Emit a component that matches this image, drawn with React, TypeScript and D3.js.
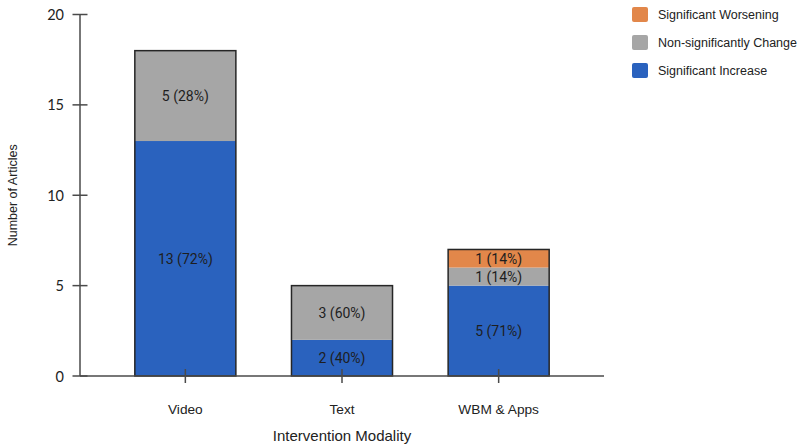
import React from "react";
import * as d3 from "d3";

// Data
const categories = ["Video", "Text", "WBM & Apps"];
const seriesNames = ["Significant Increase", "Non-significantly Change", "Significant Worsening"];
const increase = [13, 2, 5];
const nonSig = [5, 3, 1];
const worsening = [0, 0, 1];
const increaseLabels = ["13 (72%)", "2 (40%)", "5 (71%)"];
const nonSigLabels = ["5 (28%)", "3 (60%)", "1 (14%)"];
const worseningLabels = ["", "", "1 (14%)"];
const yTicks = [0, 5, 10, 15, 20];

const colors = ["#2a62be", "#a6a6a6", "#e2874a"];

const App = () => {
  // Dimensions
  const width = 798;
  const height = 446;
  const left = 80;
  const right = 604;
  const top = 14.5;
  const bottom = 376;

  // Scales
  const yScale = d3.scaleLinear().domain([0, 20]).range([bottom, top]);
  const xScale = d3
    .scaleBand()
    .domain(categories)
    .range([left, right])
    .paddingInner(0.355)
    .paddingOuter(0.35);

  // Stack
  const rows = categories.map((c, i) => ({
    cat: c,
    inc: increase[i],
    non: nonSig[i],
    wor: worsening[i],
  }));
  const stack = d3.stack().keys(["inc", "non", "wor"]);
  const series = stack(rows as any);
  const labels = [increaseLabels, nonSigLabels, worseningLabels];

  const axisColor = "#4a4a4a";

  return (
    <svg width={width} height={height} style={{ position: "absolute", left: 0, top: 0 }}>
      <rect width={width} height={height} fill="#fff" />

      {/* Bars */}
      {series.map((s, si) =>
        s.map((d, i) =>
          d[1] - d[0] > 0 ? (
            <rect
              key={`${si}-${i}`}
              x={xScale(categories[i])}
              y={yScale(d[1])}
              width={xScale.bandwidth()}
              height={yScale(d[0]) - yScale(d[1])}
              fill={colors[si]}
            />
          ) : null
        )
      )}
      {/* Outline */}
      {rows.map((r) => (
        <rect
          key={r.cat}
          x={xScale(r.cat)}
          y={yScale(r.inc + r.non + r.wor)}
          width={xScale.bandwidth()}
          height={yScale(0) - yScale(r.inc + r.non + r.wor)}
          fill="none"
          stroke="#262626"
          strokeWidth={1.5}
        />
      ))}
      {/* Segment labels */}
      {series.map((s, si) =>
        s.map((d, i) =>
          d[1] - d[0] > 0 ? (
            <text
              key={`l${si}-${i}`}
              x={(xScale(categories[i]) as number) + xScale.bandwidth() / 2}
              y={yScale((d[0] + d[1]) / 2)}
              textAnchor="middle"
              dominantBaseline="central"
              fontFamily="Roboto, sans-serif"
              fontSize={14}
              fill="#1e1e1e"
            >
              {labels[si][i]}
            </text>
          ) : null
        )
      )}

      {/* Y axis */}
      <line x1={left} x2={left} y1={top} y2={bottom} stroke={axisColor} strokeWidth={1.5} />
      {yTicks.map((t) => (
        <g key={t} transform={`translate(0,${yScale(t)})`}>
          <line x1={left - 7.5} x2={left + 7.5} stroke={axisColor} strokeWidth={1.5} />
          <text
            x={64}
            textAnchor="end"
            dominantBaseline="central"
            fontFamily="Lato, sans-serif"
            fontSize={14.5}
            fill="#222"
          >
            {t}
          </text>
        </g>
      ))}
      <text
        transform={`translate(13,${(top + bottom) / 2}) rotate(-90)`}
        textAnchor="middle"
        dominantBaseline="central"
        fontFamily="'Liberation Sans', Arial, sans-serif"
        fontSize={12.5}
        fill="#222"
      >
        Number of Articles
      </text>

      {/* X axis */}
      <line x1={left} x2={right} y1={bottom} y2={bottom} stroke={axisColor} strokeWidth={1.5} />
      {categories.map((c) => {
        const cx = (xScale(c) as number) + xScale.bandwidth() / 2;
        return (
          <g key={c} transform={`translate(${cx},0)`}>
            <line y1={bottom - 7} y2={bottom + 7} stroke={axisColor} strokeWidth={1.5} />
            <text
              y={409}
              textAnchor="middle"
              dominantBaseline="central"
              fontFamily="'Liberation Sans', Arial, sans-serif"
              fontSize={13.7}
              fill="#222"
            >
              {c}
            </text>
          </g>
        );
      })}
      <text
        x={(left + right) / 2 + 0}
        y={435.5}
        textAnchor="middle"
        dominantBaseline="central"
        fontFamily="'Liberation Sans', Arial, sans-serif"
        fontSize={15}
        fill="#222"
      >
        Intervention Modality
      </text>

      {/* Legend */}
      {[2, 1, 0].map((si, k) => (
        <g key={si} transform={`translate(632,${7 + k * 28})`}>
          <rect width={16} height={15} rx={2} fill={colors[si]} />
          <text
            x={26}
            y={7.5}
            dominantBaseline="central"
            fontFamily="'Liberation Sans', Arial, sans-serif"
            fontSize={12.5}
            fill="#222"
          >
            {seriesNames[si]}
          </text>
        </g>
      ))}
    </svg>
  );
};

export default App;
